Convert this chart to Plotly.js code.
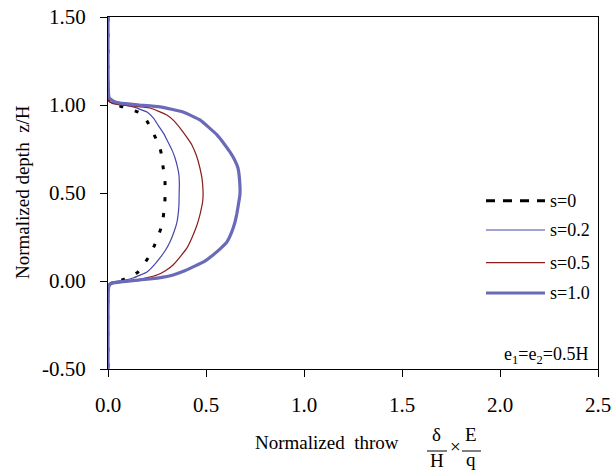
<!DOCTYPE html>
<html>
<head>
<meta charset="utf-8">
<script src="https://cdn.plot.ly/plotly-3.0.1.min.js"></script>
<style>html,body{margin:0;padding:0;background:#fff}#chart{width:613px;height:472px}</style>
</head>
<body>
<div id="chart"></div>
<script>
// Series names
const seriesNames = ["s=0", "s=0.2", "s=0.5", "s=1.0"];

// Tick values and labels
const xTickVals = [0, 0.5, 1.0, 1.5, 2.0, 2.5];
const xTickText = ["0.0", "0.5", "1.0", "1.5", "2.0", "2.5"];
const yTickVals = [-0.5, 0, 0.5, 1.0, 1.5];
const yTickText = ["-0.50", "0.00", "0.50", "1.00", "1.50"];

// s=0 (dashed)
const z_s0 = [1.5, 1.04, 1.02, 1.005, 0.989, 0.955, 0.91, 0.858, 0.80, 0.756, 0.70, 0.648, 0.60, 0.557, 0.50, 0.45, 0.40, 0.358, 0.30, 0.25, 0.20, 0.148, 0.10, 0.051, 0.025, 0.006, -0.008, -0.03, -0.5];
const x_s0 = [0, 0, 0.005, 0.03, 0.077, 0.163, 0.198, 0.224, 0.248, 0.265, 0.276, 0.281, 0.288, 0.291, 0.292, 0.29, 0.286, 0.281, 0.27, 0.255, 0.236, 0.214, 0.186, 0.153, 0.115, 0.071, 0.02, 0.003, 0];

// s=0.2
const z_s02 = [1.5, 1.05, 1.02, 1.005, 0.989, 0.96, 0.925, 0.886, 0.84, 0.79, 0.745, 0.699, 0.65, 0.602, 0.55, 0.489, 0.432, 0.38, 0.335, 0.28, 0.222, 0.175, 0.131, 0.09, 0.051, 0.017, 0.004, -0.005, -0.02, -0.5];
const x_s02 = [0, 0, 0.005, 0.05, 0.128, 0.199, 0.232, 0.255, 0.283, 0.306, 0.326, 0.342, 0.354, 0.362, 0.364, 0.363, 0.362, 0.358, 0.352, 0.337, 0.316, 0.293, 0.265, 0.235, 0.199, 0.128, 0.08, 0.02, 0.003, 0];

// s=0.5
const z_s05 = [1.5, 1.05, 1.025, 1.01, 1.0, 0.983, 0.943, 0.91, 0.87, 0.82, 0.773, 0.71, 0.642, 0.58, 0.506, 0.45, 0.432, 0.38, 0.318, 0.25, 0.188, 0.14, 0.091, 0.06, 0.034, 0.006, -0.005, -0.02, -0.5];
const x_s05 = [0, 0, 0.003, 0.02, 0.061, 0.214, 0.30, 0.337, 0.367, 0.40, 0.428, 0.452, 0.469, 0.48, 0.485, 0.483, 0.48, 0.47, 0.454, 0.43, 0.403, 0.37, 0.332, 0.295, 0.25, 0.148, 0.06, 0.005, 0];

// s=1.0
const z_s10 = [1.5, 1.2, 1.06, 1.04, 1.02, 1.011, 1.0, 0.989, 0.96, 0.915, 0.87, 0.83, 0.78, 0.733, 0.69, 0.642, 0.545, 0.489, 0.432, 0.38, 0.335, 0.28, 0.222, 0.185, 0.148, 0.11, 0.08, 0.055, 0.034, 0.018, 0.006, -0.011, -0.023, -0.05, -0.2, -0.5];
const x_s10 = [0, 0, 0.003, 0.006, 0.03, 0.061, 0.16, 0.265, 0.383, 0.469, 0.517, 0.556, 0.592, 0.622, 0.645, 0.663, 0.673, 0.673, 0.665, 0.657, 0.648, 0.632, 0.607, 0.575, 0.536, 0.49, 0.434, 0.385, 0.332, 0.26, 0.163, 0.026, 0.006, 0.002, 0, 0];

// Layout helpers (pixel -> paper)
const L = 108, R = 598, T = 17, B = 369;
const px = p => (p - L) / (R - L);
const py = p => (B - p) / (B - T);

const styles = [
  {color: "#000000", width: 3, dash: "4px,12px"},
  {color: "#4646aa", width: 1.2, dash: "solid"},
  {color: "#8b1a1a", width: 1.2, dash: "solid"},
  {color: "#6a6ab8", width: 3.2, dash: "solid"}
];
const xs = [x_s0, x_s02, x_s05, x_s10];
const zs = [z_s0, z_s02, z_s05, z_s10];

const traces = xs.map((x, i) => ({
  type: "scatter", mode: "lines", x: x, y: zs[i], name: seriesNames[i],
  line: Object.assign({shape: "spline", smoothing: 0.4}, styles[i]), showlegend: false
}));

const FAM = "'Liberation Serif', 'Times New Roman', Times, serif";
const fs = s => ({family: FAM, color: "#000", size: s});
const legendY = [200.7, 230, 262.7, 293];
const shapes = [];
const annotations = [];
seriesNames.forEach((n, i) => {
  shapes.push({type: "line", xref: "paper", yref: "paper", x0: px(486), x1: px(545), y0: py(legendY[i]), y1: py(legendY[i]),
    line: {color: styles[i].color, width: styles[i].width, dash: i === 0 ? "9px,8px" : styles[i].dash}});
  annotations.push({xref: "paper", yref: "paper", x: px(548), y: py(legendY[i]), xanchor: "left", yanchor: "middle",
    text: n, showarrow: false, font: fs(18)});
});
annotations.push({xref: "paper", yref: "paper", x: px(590), y: py(355), xanchor: "right", yanchor: "middle",
  text: "e<sub>1</sub>=e<sub>2</sub>=0.5H", showarrow: false, font: fs(18)});
// x-axis title
annotations.push({xref: "paper", yref: "paper", x: px(327), y: py(442), xanchor: "center", yanchor: "middle",
  text: "Normalized  throw", showarrow: false, font: fs(19)});
annotations.push({xref: "paper", yref: "paper", x: px(436), y: py(434), xanchor: "center", yanchor: "middle",
  text: "δ", showarrow: false, font: fs(19)});
annotations.push({xref: "paper", yref: "paper", x: px(437), y: py(460), xanchor: "center", yanchor: "middle",
  text: "H", showarrow: false, font: fs(19)});
annotations.push({xref: "paper", yref: "paper", x: px(455), y: py(446), xanchor: "center", yanchor: "middle",
  text: "×", showarrow: false, font: fs(19)});
annotations.push({xref: "paper", yref: "paper", x: px(471), y: py(434), xanchor: "center", yanchor: "middle",
  text: "E", showarrow: false, font: fs(19)});
annotations.push({xref: "paper", yref: "paper", x: px(471), y: py(459), xanchor: "center", yanchor: "middle",
  text: "q", showarrow: false, font: fs(19)});
shapes.push({type: "line", xref: "paper", yref: "paper", x0: px(427), x1: px(447), y0: py(451), y1: py(451), line: {color: "#000", width: 1}});
shapes.push({type: "line", xref: "paper", yref: "paper", x0: px(462), x1: px(481), y0: py(451), y1: py(451), line: {color: "#000", width: 1}});
// y-axis title
annotations.push({xref: "paper", yref: "paper", x: px(22), y: py(192), xanchor: "center", yanchor: "middle", textangle: -90,
  text: "Normalized depth  z/H", showarrow: false, font: fs(19)});

const layout = {
  width: 613, height: 472,
  margin: {l: L, r: 613 - R, t: T, b: 472 - B, pad: 0},
  paper_bgcolor: "#fff", plot_bgcolor: "#fff",
  showlegend: false,
  font: fs(21),
  xaxis: {range: [0, 2.5], tickmode: "array", tickvals: xTickVals, ticktext: xTickText, showgrid: false, zeroline: false,
    showline: true, linecolor: "#000", linewidth: 1, mirror: true, ticks: "outside", ticklen: 7, tickcolor: "#000",
    tickfont: fs(21), ticklabelstandoff: 10},
  yaxis: {range: [-0.5, 1.5], tickmode: "array", tickvals: yTickVals, ticktext: yTickText, showgrid: false, zeroline: false,
    showline: true, linecolor: "#000", linewidth: 1, mirror: true, ticks: "outside", ticklen: 7, tickcolor: "#000",
    tickfont: fs(21), ticklabelstandoff: 10},
  shapes: shapes,
  annotations: annotations
};

Plotly.newPlot("chart", traces, layout, {displayModeBar: false, staticPlot: true});
</script>
</body>
</html>
